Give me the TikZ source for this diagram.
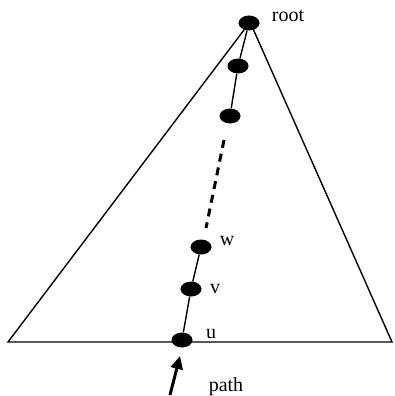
\documentclass[tikz,border=0pt]{standalone}
\usepackage{fontspec}
\setmainfont{Liberation Serif}
\usetikzlibrary{arrows.meta,shapes.geometric}
\begin{document}
\begin{tikzpicture}[x=1pt,y=-1pt,
  dot/.style={ellipse,fill=black,minimum width=21pt,minimum height=15pt,inner sep=0pt},
  edge/.style={line width=1.4pt},
  lbl/.style={font=\fontsize{20}{22}\selectfont,inner sep=0pt}]
\useasboundingbox (0,0) rectangle (394,396);
% triangle
\coordinate (apex) at (250,22);
\coordinate (bl) at (8,342);
\coordinate (br) at (392,342);
\draw[edge,line join=miter] (bl) -- (apex) -- (br) -- cycle;
% nodes
\node[dot] (root) at (249,23) {};
\node[dot] (n1) at (238,66) {};
\node[dot] (n2) at (230,116) {};
\node[dot] (w) at (201,247) {};
\node[dot] (v) at (191,289) {};
\node[dot] (u) at (182,340) {};
\coordinate (d1) at (224,140);
\coordinate (d2) at (206,228);
\draw[edge] (root) -- (n1) -- (n2);
\draw[line width=3pt,dash pattern=on 8pt off 6pt] (d1) -- (d2);
\draw[edge] (w) -- (v) -- (u);
% labels
\node[lbl] (lroot) at (288,16) {root};
\node[lbl] (lw) at (227,241) {w};
\node[lbl] (lv) at (215,289) {v};
\node[lbl] (lu) at (211,334) {u};
\node[lbl] (lpath) at (226,387) {path};
% arrow
\coordinate (atail) at (170,395);
\coordinate (atip) at (180,356);
\draw[line width=3pt,-{Triangle[length=13pt,width=12pt]}] (atail) -- (atip);
\end{tikzpicture}
\end{document}
